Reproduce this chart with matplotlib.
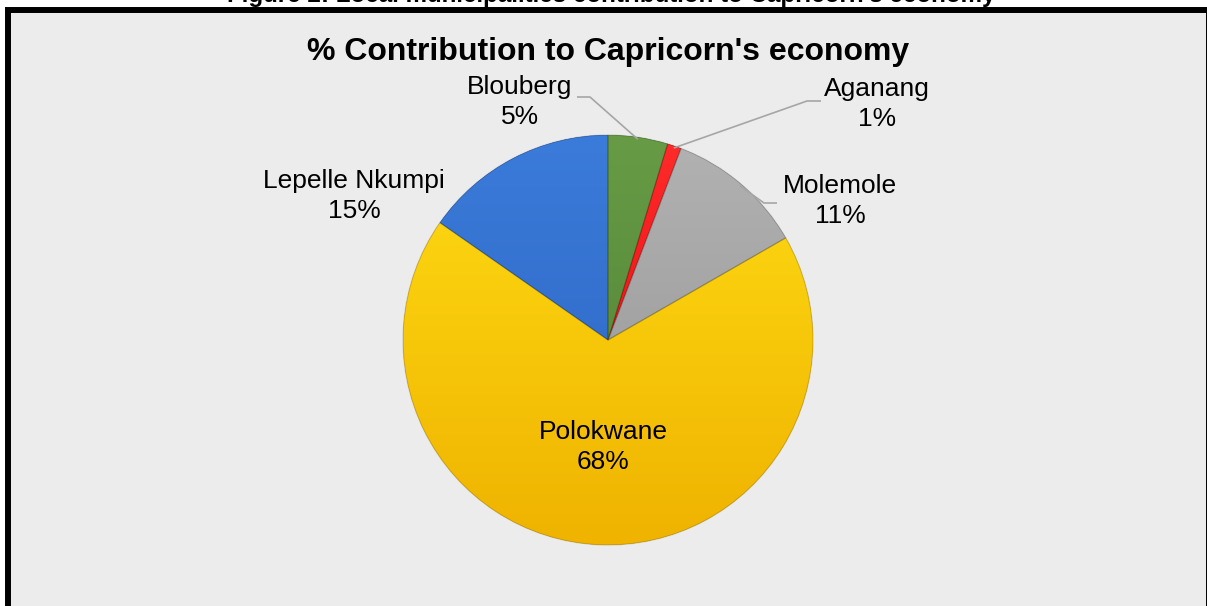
import numpy as np
import matplotlib.pyplot as plt
from matplotlib.patches import Rectangle, Wedge
from matplotlib.colors import LinearSegmentedColormap

plt.rcParams['font.family'] = ['Liberation Sans', 'DejaVu Sans']

# data
municipalities = ['Blouberg', 'Aganang', 'Molemole', 'Polokwane', 'Lepelle Nkumpi']
shares = [4.7, 1.1, 10.9, 68.0, 15.3]
top_colors = ['#679b45', '#ff2b2b', '#b2b2b2', '#ffdc14', '#3b7bd9']
bottom_colors = ['#4e7f33', '#e20000', '#939393', '#efb300', '#2c63c2']
chart_title = "% Contribution to Capricorn's economy"
caption = "Figure 2: Local municipalities contribution to Capricorn's economy"

W, H = 1207, 606
fig = plt.figure(figsize=(W / 100, H / 100), dpi=100, facecolor='white')
ax = fig.add_axes([0, 0, 1, 1])


def py(y):
    # pixel row from the top -> data y
    return H - y


# chart area with thick black frame
ax.add_patch(Rectangle((8, -20), 1200.5, py(10) + 20, facecolor='#ececec',
                       edgecolor='black', linewidth=4.3, zorder=0))

cx, cy, r = 608, py(340), 205
wedges, _ = ax.pie(shares, startangle=90, counterclock=False,
                   center=(cx, cy), radius=r,
                   colors=bottom_colors,
                   wedgeprops=dict(linewidth=0))

# vertical shading inside each slice
grad = np.linspace(0, 1, 256).reshape(-1, 1)
for w, c_top, c_bot in zip(wedges, top_colors, bottom_colors):
    cmap = LinearSegmentedColormap.from_list('s', [c_bot, c_top])
    im = ax.imshow(grad, extent=[cx - r, cx + r, cy - r, cy + r], origin='lower',
                   cmap=cmap, aspect='auto', zorder=1.5, interpolation='bilinear')
    im.set_clip_path(w)
    w.set_zorder(1)
for w in wedges:
    ax.add_patch(Wedge((cx, cy), r, w.theta1, w.theta2, facecolor='none',
                       edgecolor=(0, 0, 0, 0.15), linewidth=0.9, zorder=2))

labels = [f"{m}\n{s:.0f}%" for m, s in zip(municipalities, shares)]
label_pos = [(520, 102), (877, 104), (840, 201), (603, 447), (354, 196)]
elbows = [[(577, 97), (590, 97)], [(821, 101), (807, 101)], [(777, 203), (764, 203)],
          None, None]

for w, lab, (lx, ly), elb in zip(wedges, labels, label_pos, elbows):
    ax.text(lx, py(ly), lab, ha='center', va='center', fontsize=19,
            color='black', linespacing=1.3, zorder=4)
    if elb is None:
        continue
    mid = np.deg2rad((w.theta1 + w.theta2) / 2)
    ex, ey = cx + r * 0.99 * np.cos(mid), cy + r * 0.99 * np.sin(mid)
    xs = [p[0] for p in elb] + [ex]
    ys = [py(p[1]) for p in elb] + [ey]
    ax.plot(xs, ys, color='#a6a6a6', lw=1.2, zorder=3, solid_capstyle='butt')

ax.text(608, py(52), chart_title, ha='center', va='center', fontsize=23,
        fontweight='bold', color='black', zorder=4)
# caption above the chart, mostly cut off at the top edge
ax.text(611, py(2), caption, ha='center', va='baseline', fontsize=17.4,
        fontweight='bold', color='black', zorder=4)

ax.set_xlim(0, W)
ax.set_ylim(0, H)
ax.set_aspect('auto')
ax.axis('off')

fig.savefig('out.png', dpi=100, facecolor='white')
